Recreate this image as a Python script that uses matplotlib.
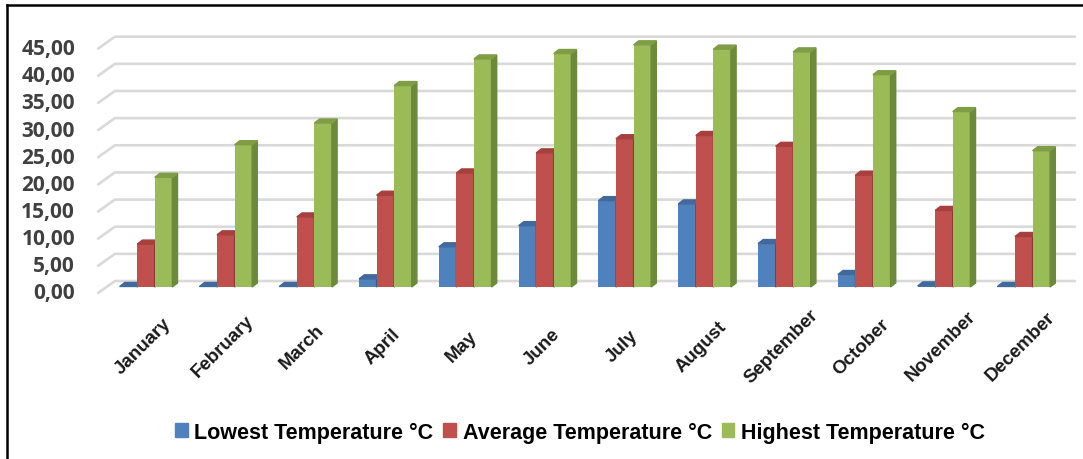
import matplotlib
matplotlib.use("Agg")
import matplotlib.pyplot as plt
from matplotlib.patches import Polygon, Patch
from matplotlib.lines import Line2D
from matplotlib.transforms import blended_transform_factory

months = ["January", "February", "March", "April", "May", "June",
          "July", "August", "September", "October", "November", "December"]
lowest = [0.1, 0.1, 0.1, 1.5, 7.4, 11.3, 15.9, 15.3, 8.0, 2.3, 0.2, 0.1]
average = [7.9, 9.6, 12.9, 16.9, 21.0, 24.7, 27.3, 27.9, 25.9, 20.6, 14.1, 9.3]
highest = [20.2, 26.2, 30.2, 37.1, 42.0, 43.0, 44.6, 43.8, 43.3, 39.1, 32.3, 25.1]
yticks = [0, 5, 10, 15, 20, 25, 30, 35, 40, 45]
series_names = ["Lowest Temperature °C", "Average Temperature °C", "Highest Temperature °C"]

front_cols = ["#4f81bd", "#c0504d", "#9bbb59"]
side_cols = ["#375a87", "#8c3835", "#6c8a3a"]
top_cols = ["#41699c", "#a6403d", "#7f9d45"]

W, H = 1083, 460
fig = plt.figure(figsize=(W / 100, H / 100), dpi=100)

# axes placed in pixel terms: category spacing ~80 px, 5.43 px per degree
x0_px, spacing = 146, 79.8
y0_px, per_unit = 288, 5.43
left_px, right_px = 85, 1080
ymin, ymax = -2, 47.5
bot_px = y0_px - ymin * per_unit
top_px = y0_px - ymax * per_unit
ax = fig.add_axes([left_px / W, (H - bot_px) / H,
                   (right_px - left_px) / W, (bot_px - top_px) / H])
ax.set_xlim((left_px - x0_px) / spacing, (right_px - x0_px) / spacing)
ax.set_ylim(ymin, ymax)
ax.axis("off")

# back-wall gridlines with the short perspective stub at the left
lift = 1.1
for v in yticks:
    ax.plot([-0.60, -0.39, 11.64], [v - lift, v + lift, v + lift],
            color="#d9d9d9", lw=1.9, solid_capstyle="round", zorder=0)

# y labels sit on the front plane
trans = blended_transform_factory(fig.transFigure, ax.transData)
for v in yticks:
    ax.text(75 / W, v - lift, f"{v:.2f}".replace(".", ","), transform=trans,
            ha="right", va="center", fontsize=15, fontweight="bold",
            family=["Open Sans", "DejaVu Sans"], color="#404040")

# pseudo-3D columns: front bar plus side and top faces
bw = 0.22
dx, dy = 0.065, 0.74
for i in range(len(months)):
    for k, vals in enumerate([lowest, average, highest]):
        h = vals[i]
        xl = i + (k - 1) * bw - bw / 2
        xr = xl + bw
        z = 2 + k * 0.1
        ax.bar(xl, h, width=bw, align="edge", color=front_cols[k], zorder=z)
        ax.add_patch(Polygon([(xr, 0), (xr + dx, dy), (xr + dx, h + dy), (xr, h)],
                             closed=True, color=side_cols[k], zorder=z))
        ax.add_patch(Polygon([(xl, h), (xl + dx, h + dy), (xr + dx, h + dy), (xr, h)],
                             closed=True, color=top_cols[k], zorder=z))

label_y = -(347 - y0_px) / per_unit
for i, m in enumerate(months):
    ax.text(i - 0.04, label_y, m, rotation=45, ha="center", va="center",
            rotation_mode="anchor", fontsize=13.5, fontweight="bold",
            family=["Liberation Sans", "DejaVu Sans"], color="#1a1a1a", clip_on=False)

handles = [Patch(color=c) for c in front_cols]
fig.legend(handles, series_names, loc="center", bbox_to_anchor=(580 / W, 1 - 433 / H),
           ncol=3, frameon=False, handlelength=0.6, handleheight=0.6,
           handletextpad=0.3, columnspacing=0.45,
           prop={"family": ["Liberation Sans", "DejaVu Sans"], "weight": "bold", "size": 15.5})

# outer frame: left and top edges
fig.add_artist(Line2D([7 / W, 7 / W], [0, 1 - 6 / H], transform=fig.transFigure,
                      color="black", lw=1.8))
fig.add_artist(Line2D([7 / W, 1], [1 - 6 / H, 1 - 6 / H], transform=fig.transFigure,
                      color="black", lw=1.8))

fig.savefig("out.png", dpi=100)
